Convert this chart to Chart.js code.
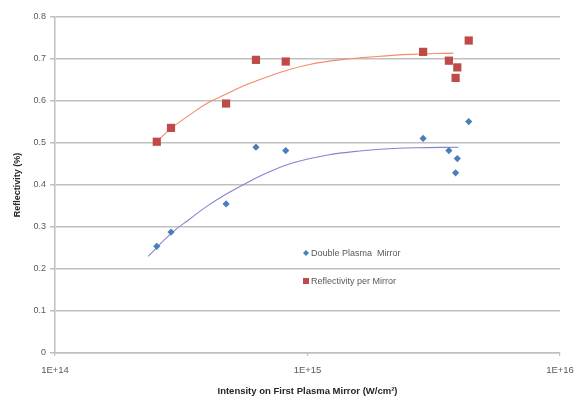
<!DOCTYPE html>
<html>
<head>
<meta charset="utf-8">
<script src="https://cdn.jsdelivr.net/npm/chart.js@4/dist/chart.umd.min.js"></script>
<style>
html,body{margin:0;padding:0;background:#fff;}
#wrap{width:579px;height:397px;position:relative;}
</style>
</head>
<body>
<div id="wrap"><canvas id="c" width="579" height="397"></canvas></div>
<script>
// ---- data ----
const intensity = [2.53e14, 2.88e14, 4.76e14, 6.25e14, 8.2e14, 2.87e15, 3.63e15, 3.92e15, 3.86e15, 4.35e15];
const doublePlasma = [0.254, 0.288, 0.355, 0.490, 0.482, 0.511, 0.482, 0.463, 0.429, 0.551];
const perMirror = [0.503, 0.536, 0.594, 0.698, 0.694, 0.717, 0.696, 0.680, 0.655, 0.744];

const trendDoubleX = [2.34e14, 2.90e14, 3.42e14, 3.99e14, 4.79e14, 5.74e14, 7.10e14, 8.78e14, 1.19e15, 1.61e15, 2.19e15, 2.96e15, 3.96e15];
const trendDoubleY = [0.230, 0.286, 0.319, 0.349, 0.379, 0.405, 0.432, 0.453, 0.471, 0.481, 0.487, 0.489, 0.490];
const trendMirrorX = [2.53e14, 2.90e14, 3.42e14, 3.99e14, 4.79e14, 5.40e14, 6.49e14, 7.78e14, 1.02e15, 1.39e15, 1.88e15, 2.55e15, 3.78e15];
const trendMirrorY = [0.504, 0.536, 0.567, 0.594, 0.617, 0.632, 0.651, 0.668, 0.687, 0.699, 0.706, 0.711, 0.714];

const xTickValues = [1e14, 1e15, 1e16];
const xTickLabels = ['1E+14', '1E+15', '1E+16'];
const yTickLabels = ['0', '0.1', '0.2', '0.3', '0.4', '0.5', '0.6', '0.7', '0.8'];

const seriesNames = ['Double Plasma  Mirror', 'Reflectivity per Mirror'];
const xTitle = 'Intensity on First Plasma Mirror (W/cm²)';
const yTitle = 'Reflectivity (%)';

// ---- build ----
const pts = (xs, ys) => xs.map((x, i) => ({x: x, y: ys[i]}));
const BLUE = '#4A7EBB', RED = '#BE4B48';
const FONT = "'Liberation Sans', Arial, sans-serif";

const legendPlugin = {
  id: 'insideLegend',
  afterDatasetsDraw(chart) {
    const ctx = chart.ctx;
    const a = chart.chartArea;
    const x0 = a.left + 251;
    const rows = [
      {y: a.top + 236, color: BLUE, style: 'diamond', text: seriesNames[0]},
      {y: a.top + 264, color: RED, style: 'square', text: seriesNames[1]}
    ];
    ctx.save();
    ctx.font = '9px ' + FONT;
    ctx.textBaseline = 'middle';
    ctx.textAlign = 'left';
    rows.forEach(r => {
      ctx.fillStyle = r.color;
      ctx.beginPath();
      if (r.style === 'diamond') {
        ctx.moveTo(x0 - 3, r.y); ctx.lineTo(x0, r.y - 3); ctx.lineTo(x0 + 3, r.y); ctx.lineTo(x0, r.y + 3);
        ctx.closePath(); ctx.fill();
      } else {
        ctx.fillRect(x0 - 3, r.y - 3, 6, 6);
      }
      ctx.fillStyle = '#595959';
      ctx.fillText(r.text, x0 + 5, r.y + 0.5);
    });
    ctx.restore();
  }
};

new Chart(document.getElementById('c'), {
  data: {
    datasets: [
      {type: 'line', label: 'trend1', data: pts(trendMirrorX, trendMirrorY), borderColor: '#F48A68', borderWidth: 1.1,
       pointRadius: 0, tension: 0.4, fill: false, order: 3},
      {type: 'line', label: 'trend2', data: pts(trendDoubleX, trendDoubleY), borderColor: '#8484D2', borderWidth: 1.1,
       pointRadius: 0, tension: 0.4, fill: false, order: 3},
      {type: 'scatter', label: seriesNames[0], data: pts(intensity, doublePlasma), pointStyle: 'rectRot', pointRadius: 3.6,
       backgroundColor: BLUE, borderColor: BLUE, borderWidth: 0, order: 1},
      {type: 'scatter', label: seriesNames[1], data: pts(intensity, perMirror), pointStyle: 'rect', pointRadius: 5.8,
       backgroundColor: RED, borderColor: RED, borderWidth: 0, order: 1}
    ]
  },
  options: {
    responsive: false,
    animation: false,
    layout: {padding: {top: 17, right: 19, left: 0, bottom: 0}},
    plugins: {legend: {display: false}, tooltip: {enabled: false}},
    scales: {
      x: {
        type: 'logarithmic', min: 1e14, max: 1e16,
        afterBuildTicks: s => { s.ticks = xTickValues.map(v => ({value: v})); },
        afterFit: s => { s.height = 44; s.paddingRight = 0; s.paddingLeft = 0; },
        ticks: {callback: (v, i) => xTickLabels[i], color: '#595959', font: {family: FONT, size: 9.5}, padding: 9, maxRotation: 0, autoSkip: false},
        grid: {drawOnChartArea: false, color: '#BFBFBF', tickLength: 3, lineWidth: 1.2},
        border: {color: '#BFBFBF', width: 1.5},
        title: {display: true, text: xTitle, color: '#262626', font: {family: FONT, size: 9.5, weight: 'bold'}, padding: {top: 4, bottom: 0}}
      },
      y: {
        type: 'linear', min: 0, max: 0.8,
        afterBuildTicks: s => { s.ticks = yTickLabels.map((t, i) => ({value: Number(t)})); },
        afterFit: s => { s.width = 55; },
        ticks: {callback: (v, i) => yTickLabels[i], color: '#595959', font: {family: FONT, size: 9}, padding: 4},
        grid: {color: '#BFBFBF', lineWidth: 1.5, tickLength: 5},
        border: {color: '#BFBFBF', width: 1.5},
        title: {display: true, text: yTitle, color: '#262626', font: {family: FONT, size: 9, weight: 'bold'}, padding: {top: 12, bottom: 0}}
      }
    }
  },
  plugins: [legendPlugin]
});
</script>
</body>
</html>
